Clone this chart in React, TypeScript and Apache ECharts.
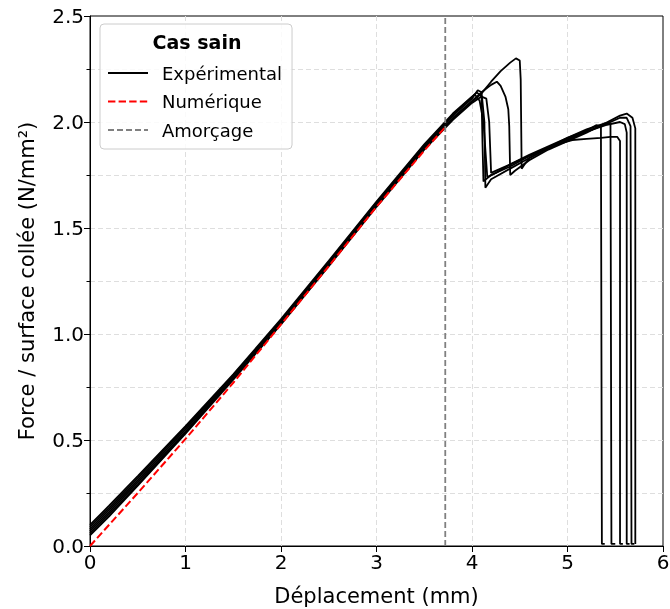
import React, { useEffect, useRef } from 'react';
import * as echarts from 'echarts';

const xTicks = [0, 1, 2, 3, 4, 5, 6];
const yTickLabels = ['0.0', '0.5', '1.0', '1.5', '2.0', '2.5'];

const numerique: number[][] = [
  [0, 0], [0.5, 0.25], [1, 0.505], [1.5, 0.77], [2, 1.045], [2.5, 1.32],
  [3, 1.6], [3.5, 1.865], [3.72, 1.976],
];

const amorcageX = 3.72;
const amorcage: number[][] = [[amorcageX, 0], [amorcageX, 2.5]];

const exp1: number[][] = [
  [0, 0.10], [0.2, 0.19], [0.5, 0.33], [1, 0.565], [1.5, 0.81], [2, 1.07], [2.5, 1.345],
  [3, 1.625], [3.5, 1.895], [3.8, 2.04], [4.0, 2.12], [4.05, 2.14], [4.1, 2.12], [4.11, 1.9],
  [4.12, 1.72], [4.2, 1.75], [4.4, 1.79], [4.6, 1.84], [4.8, 1.88], [5.0, 1.92], [5.2, 1.955],
  [5.4, 1.985], [5.55, 2.0], [5.6, 1.99], [5.62, 1.95], [5.62, 0.01], [5.65, 0.01],
];
const exp2: number[][] = [
  [0, 0.08], [0.2, 0.17], [0.5, 0.31], [1, 0.55], [1.5, 0.8], [2, 1.06], [2.5, 1.335],
  [3, 1.615], [3.5, 1.885], [3.8, 2.03], [4.0, 2.11], [4.06, 2.15], [4.1, 2.14], [4.13, 2.0],
  [4.14, 1.69], [4.2, 1.73], [4.4, 1.78], [4.6, 1.83], [4.8, 1.875], [5.0, 1.915], [5.2, 1.955],
  [5.4, 1.99], [5.55, 2.02], [5.62, 2.02], [5.66, 1.98], [5.67, 0.01], [5.7, 0.01],
];
const exp3: number[][] = [
  [0, 0.07], [0.2, 0.16], [0.5, 0.3], [1, 0.54], [1.5, 0.795], [2, 1.055], [2.5, 1.33],
  [3, 1.61], [3.5, 1.88], [3.8, 2.02], [4.0, 2.1], [4.1, 2.14], [4.2, 2.175], [4.26, 2.19],
  [4.3, 2.17], [4.35, 2.12], [4.38, 2.06], [4.39, 1.98], [4.4, 1.75], [4.45, 1.77], [4.6, 1.82],
  [4.8, 1.87], [5.0, 1.91], [5.2, 1.95], [5.4, 1.995], [5.55, 2.03], [5.62, 2.04], [5.68, 2.02],
  [5.71, 1.97], [5.71, 0.01],
];
const exp4: number[][] = [
  [0, 0.06], [0.2, 0.15], [0.5, 0.29], [1, 0.535], [1.5, 0.79], [2, 1.05], [2.5, 1.325],
  [3, 1.605], [3.5, 1.875], [3.8, 2.015], [4.0, 2.095], [4.1, 2.135], [4.2, 2.19], [4.3, 2.24],
  [4.4, 2.28], [4.46, 2.3], [4.5, 2.29], [4.51, 2.2], [4.52, 1.78], [4.55, 1.8], [4.6, 1.83],
  [4.8, 1.88], [5.0, 1.925], [5.2, 1.965], [5.4, 1.995], [5.45, 1.99], [5.46, 0.01], [5.5, 0.01],
];
const exp5: number[][] = [
  [0, 0.09], [0.2, 0.18], [0.5, 0.32], [1, 0.56], [1.5, 0.805], [2, 1.065], [2.5, 1.34],
  [3, 1.62], [3.5, 1.89], [3.8, 2.035], [3.98, 2.11], [4.03, 2.13], [4.08, 2.1], [4.12, 2.0],
  [4.16, 1.74], [4.25, 1.76], [4.4, 1.8], [4.6, 1.845], [4.8, 1.885], [5.0, 1.925], [5.2, 1.96],
  [5.3, 1.985], [5.35, 1.98], [5.36, 0.01], [5.39, 0.01],
];
const exp6: number[][] = [
  [0, 0.05], [0.2, 0.14], [0.5, 0.285], [1, 0.53], [1.5, 0.785], [2, 1.045], [2.5, 1.32],
  [3, 1.6], [3.5, 1.87], [3.8, 2.01], [4.0, 2.09], [4.1, 2.12], [4.15, 2.11], [4.18, 2.0],
  [4.2, 1.76], [4.3, 1.78], [4.5, 1.82], [4.7, 1.86], [4.9, 1.895], [5.05, 1.915], [5.2, 1.92],
  [5.35, 1.925], [5.45, 1.93], [5.52, 1.93], [5.55, 1.91], [5.55, 0.01], [5.58, 0.01],
];
const experimental = [exp1, exp2, exp3, exp4, exp5, exp6];

export default function App() {
  const ref = useRef<HTMLDivElement>(null);
  useEffect(() => {
    if (!ref.current) return;
    const chart = echarts.init(ref.current, null, { renderer: 'svg' });
    const font = 'DejaVu Sans';
    const splitStyle = { color: '#dedede', width: 1, type: [5, 3] as any };
    const expSeries = experimental.map((d) => ({
      name: 'Expérimental',
      type: 'line',
      data: d,
      symbol: 'none',
      silent: true,
      lineStyle: { color: '#000', width: 1.8 },
      itemStyle: { color: '#000' },
      z: 2,
    }));
    chart.setOption({
      animation: false,
      textStyle: { fontFamily: font },
      grid: {
        left: 90, right: 7, top: 16, bottom: 63,
        outerBoundsMode: 'none',
        containLabel: false,
        show: true, borderColor: '#000', borderWidth: 1,
      },
      xAxis: {
        type: 'value', min: xTicks[0], max: xTicks[xTicks.length - 1], interval: 1,
        name: 'Déplacement (mm)', nameLocation: 'middle', nameGap: 39,
        nameTextStyle: { fontSize: 21, color: '#000', fontFamily: font },
        axisLine: { show: true, onZero: false, lineStyle: { color: '#000', width: 1 } },
        axisTick: { show: true, inside: false, length: 6, lineStyle: { color: '#000' } },
        axisLabel: { fontSize: 20, color: '#000', margin: 6, fontFamily: font },
        splitLine: { show: true, showMinLine: false, showMaxLine: false, lineStyle: splitStyle },
      },
      yAxis: {
        type: 'value', min: 0, max: 2.5, interval: 0.5,
        name: 'Force / surface collée (N/mm²)', nameLocation: 'middle', nameGap: 53,
        nameTextStyle: { fontSize: 21, color: '#000', fontFamily: font },
        axisLine: { show: true, onZero: false, lineStyle: { color: '#000', width: 1 } },
        axisTick: { show: true, inside: false, length: 6, lineStyle: { color: '#000' } },
        minorTick: { show: true, splitNumber: 2, length: 3.5, lineStyle: { color: '#000' } },
        minorSplitLine: { show: true, lineStyle: splitStyle },
        axisLabel: {
          fontSize: 20, color: '#000', margin: 6, fontFamily: font,
          formatter: (v: number) => yTickLabels[Math.round(v / 0.5)] ?? v.toFixed(1),
        },
        splitLine: { show: true, showMinLine: false, showMaxLine: false, lineStyle: splitStyle },
      },
      legend: {
        data: ['Expérimental', 'Numérique', 'Amorçage'],
        orient: 'vertical',
        left: 100, top: 24,
        padding: [40, 10, 10, 7],
        itemWidth: 40, itemHeight: 14, itemGap: 10.5,
        backgroundColor: 'rgba(255,255,255,0.85)',
        borderColor: '#cccccc', borderWidth: 1, borderRadius: 4,
        itemStyle: { opacity: 0, borderWidth: 0 },
        textStyle: { fontSize: 18, color: '#000', fontFamily: font, lineHeight: 18, padding: [0, 0, 0, 9] },
        selectedMode: false,
      },
      graphic: [
        {
          type: 'text', x: 197, y: 42, z: 100,
          style: {
            text: 'Cas sain', fill: '#000', fontSize: 19, fontWeight: 'bold', fontFamily: font,
            align: 'center', verticalAlign: 'middle', textAlign: 'center', textVerticalAlign: 'middle',
          },
        },
      ],
      series: [
        ...expSeries,
        {
          name: 'Numérique', type: 'line', data: numerique, symbol: 'none', silent: true,
          lineStyle: { color: '#ff0000', width: 2, type: [7.4, 3.2] },
          itemStyle: { color: '#ff0000' }, z: 3,
        },
        {
          name: 'Amorçage', type: 'line', data: amorcage, symbol: 'none', silent: true,
          lineStyle: { color: '#808080', width: 1.8, type: [6, 3] },
          itemStyle: { color: '#808080' }, z: 4,
        },
      ],
    });
    return () => chart.dispose();
  }, []);
  return <div ref={ref} style={{ position: 'fixed', left: 0, top: 0, width: 670, height: 609 }} />;
}
